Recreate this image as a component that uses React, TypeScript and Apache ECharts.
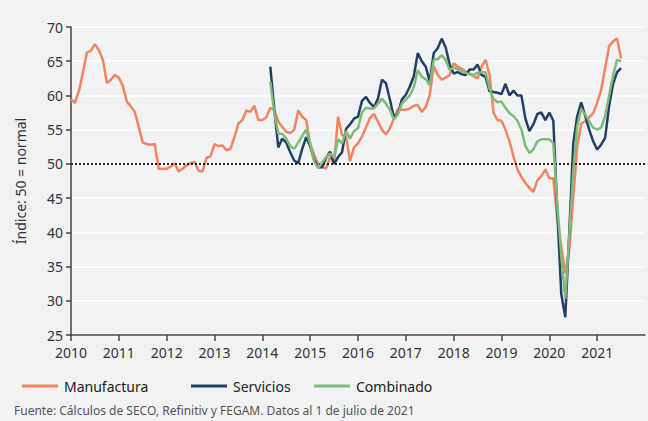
import React, { useEffect, useRef } from "react";
import * as echarts from "echarts";

const START_YEAR = 2010;
const SERV_START_INDEX = 50; // 2014-03

const manufactura: number[] = [
  59.4, 58.9, 60.7, 63.4, 66.3, 66.5, 67.5, 66.6, 65.2, 61.8, 62.3, 63.0,
  62.6, 61.4, 59.1, 58.4, 57.6, 55.4, 53.1, 52.9, 52.8, 52.9, 49.3, 49.3,
  49.3, 49.6, 50.1, 48.9, 49.3, 49.8, 50.1, 50.3, 49.0, 48.9, 50.9, 51.1,
  52.9, 52.6, 52.7, 52.0, 52.2, 53.9, 55.9, 56.4, 57.8, 57.6, 58.5, 56.4,
  56.4, 56.8, 58.2, 57.8, 56.2, 55.4, 54.7, 54.5, 55.0, 57.8, 56.9, 56.4,
  53.0, 51.3, 50.0, 49.5, 49.3, 51.0, 50.1, 56.9, 54.2, 54.0, 50.4, 52.4,
  53.0, 54.0, 55.3, 56.7, 57.3, 56.2, 55.0, 54.3, 55.2, 56.6, 58.0, 57.9,
  57.9, 58.1, 58.5, 58.6, 57.6, 58.3, 60.1, 64.3, 63.0, 62.3, 62.6, 63.0,
  64.7, 64.2, 63.9, 63.5, 63.2, 62.8, 62.5, 64.2, 65.2, 63.0, 57.5, 56.4,
  56.3, 55.0, 53.3, 51.1, 49.2, 48.1, 47.2, 46.5, 45.9, 47.6, 48.2, 49.2,
  47.9, 47.9, 42.0, 37.9, 34.0, 37.4, 45.0, 52.5, 55.9, 56.2, 56.8, 57.4,
  58.9, 60.8, 64.0, 67.2, 67.9, 68.3, 65.4,
];

const servicios: number[] = [
  64.2, 58.0, 52.4, 53.7, 53.1, 51.7, 50.5, 50.1, 52.2, 53.9,
  52.6, 50.6, 49.5, 49.5, 50.9, 51.8, 50.0, 51.0, 51.7, 55.1, 55.8, 56.6,
  56.9, 59.2, 59.8, 58.9, 58.3, 59.5, 62.3, 61.8, 59.4, 56.8, 57.3, 59.4,
  60.1, 61.3, 62.8, 66.2, 65.0, 64.2, 62.0, 66.2, 66.9, 68.3, 67.0, 64.5,
  63.2, 63.4, 63.1, 63.0, 63.8, 63.8, 64.5, 63.0, 62.7, 60.6, 60.5, 60.4,
  60.2, 61.7, 60.0, 60.7, 60.0, 60.0, 56.6, 54.8, 55.8, 57.3, 57.5, 56.4,
  57.5, 56.3, 43.0, 31.0, 27.6, 39.9, 53.0, 57.0, 59.0, 57.0, 55.0, 53.3,
  52.1, 52.8, 53.8, 58.5, 61.7, 63.4, 64.0,
];

const combinado: number[] = [
  62.0, 57.5, 54.4, 54.4, 53.7, 52.6, 52.2, 53.1, 54.1, 55.0,
  53.0, 50.3, 49.4, 50.2, 51.0, 51.5, 50.9, 53.6, 53.0, 54.8, 53.7, 54.8,
  55.2, 57.5, 58.2, 58.1, 58.1, 58.8, 59.5, 58.8, 57.9, 56.5, 57.2, 58.8,
  59.4, 60.0, 61.2, 63.7, 62.7, 62.4, 61.5, 65.2, 65.3, 65.9, 65.2, 63.7,
  64.1, 63.8, 63.5, 63.3, 63.1, 63.0, 63.3, 63.4, 63.4, 61.0, 59.5, 59.0,
  59.1, 58.2, 57.4, 57.0, 56.3, 55.0, 52.6, 51.6, 52.1, 53.3, 53.6, 53.6,
  53.6, 53.0, 44.0, 36.5, 30.3, 39.4, 49.0, 55.5, 58.0, 57.2, 56.2, 55.3,
  55.0, 55.3, 57.0, 60.0, 63.0, 65.2, 65.0,
];

const seriesNames = ["Manufactura", "Servicios", "Combinado"];
const colors = ["#f4845f", "#243f66", "#7dbb78"];
const yName = "Índice: 50 = normal";
const sourceText = "Fuente: Cálculos de SECO, Refinitiv y FEGAM. Datos al 1 de julio de 2021";

const toPoints = (vals: number[], startIndex: number) =>
  vals.map((v, i) => [START_YEAR + (startIndex + i) / 12, v]);

const FONT = "'Noto Sans', sans-serif";

export default function App() {
  const ref = useRef<HTMLDivElement>(null);
  useEffect(() => {
    if (!ref.current) return;
    const chart = echarts.init(ref.current, undefined, { renderer: "svg" });
    const axisColor = "#444";
    chart.setOption({
      animation: false,
      backgroundColor: "#f1f2f4",
      textStyle: { fontFamily: FONT },
      grid: { left: 71, right: 3, top: 27, bottom: 86, containLabel: false },
      xAxis: {
        type: "value",
        min: 2010,
        max: 2022,
        interval: 1,
        axisLine: { show: true, lineStyle: { color: axisColor, width: 1.5 } },
        axisTick: { show: true, length: 6, lineStyle: { color: axisColor, width: 1.5 } },
        axisLabel: {
          color: "#333",
          fontSize: 14,
          fontFamily: FONT,
          margin: 10,
          showMaxLabel: false,
          formatter: (v: number) => String(Math.round(v)),
        },
        splitLine: { show: false },
      },
      yAxis: {
        type: "value",
        min: 25,
        max: 70,
        interval: 5,
        name: yName,
        nameLocation: "middle",
        nameGap: 44,
        nameTextStyle: { color: "#333", fontSize: 14, fontFamily: FONT },
        axisLine: { show: true, lineStyle: { color: axisColor, width: 1.5 } },
        axisTick: { show: true, length: 5, lineStyle: { color: axisColor, width: 1.5 } },
        axisLabel: { color: "#333", fontSize: 14, fontFamily: FONT, margin: 8 },
        splitLine: { show: true, lineStyle: { color: "#ffffff", width: 1.5 } },
      },
      legend: seriesNames.map((n, i) => ({
        data: [n],
        left: [17, 186, 309][i],
        top: 374,
        icon: "rect",
        itemWidth: 36,
        itemHeight: 3,
        textStyle: { color: "#222", fontSize: 14, fontFamily: FONT, padding: [0, 0, 0, 1] },
        selectedMode: false,
      })),
      graphic: [
        {
          type: "text",
          left: 14,
          top: 404,
          style: { text: sourceText, fill: "#555", fontSize: 12, fontFamily: FONT },
        },
      ],
      series: [
        {
          name: seriesNames[0],
          type: "line",
          data: toPoints(manufactura, 0),
          showSymbol: false,
          lineStyle: { color: colors[0], width: 2.5 },
          itemStyle: { color: colors[0] },
          z: 3,
          markLine: {
            silent: true,
            symbol: ["none", "none"],
            label: { show: false },
            lineStyle: { color: "#222", type: "dotted", width: 2 },
            data: [{ yAxis: 50 }],
          },
        },
        {
          name: seriesNames[1],
          type: "line",
          data: toPoints(servicios, SERV_START_INDEX),
          showSymbol: false,
          lineStyle: { color: colors[1], width: 2.5 },
          itemStyle: { color: colors[1] },
          z: 4,
        },
        {
          name: seriesNames[2],
          type: "line",
          data: toPoints(combinado, SERV_START_INDEX),
          showSymbol: false,
          lineStyle: { color: colors[2], width: 2.5 },
          itemStyle: { color: colors[2] },
          z: 5,
        },
      ],
    });
    return () => chart.dispose();
  }, []);
  return (
    <div
      style={{ position: "fixed", left: 0, top: 0, width: 648, height: 421, background: "#f1f2f4" }}
    >
      <div ref={ref} style={{ width: 648, height: 421 }} />
    </div>
  );
}
